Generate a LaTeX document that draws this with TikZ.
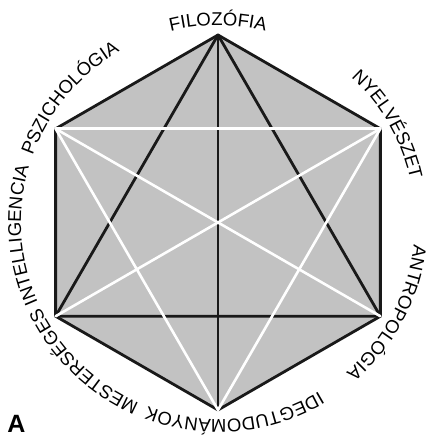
\documentclass[tikz,border=0pt]{standalone}
\usepackage{fontspec}
\setmainfont{Liberation Sans}
\usetikzlibrary{calc,decorations.text}
\definecolor{hexfill}{RGB}{194,194,194}
\newcommand\labfont{\fontsize{18.5}{21}\selectfont}
\tikzset{
  blackline/.style={draw=black!90,line width=2.8pt,line cap=round,line join=round},
  whiteline/.style={draw=white,line width=2.6pt,line cap=round},
  arclabel/.style={decorate,decoration={text along path,text align=center,text={|\labfont|#1}}}
}
\begin{document}
\begin{tikzpicture}[x=1pt,y=1pt]
\useasboundingbox (0,0) rectangle (430,438);
\coordinate (C) at (218,215.5);
\coordinate (T) at ($(C)+(90:187.5)$);
\coordinate (UR) at ($(C)+(30:187.5)$);
\coordinate (LR) at ($(C)+(-30:187.5)$);
\coordinate (B) at ($(C)+(-90:187.5)$);
\coordinate (LL) at ($(C)+(-150:187.5)$);
\coordinate (UL) at ($(C)+(150:187.5)$);
\fill[hexfill] (T)--(UR)--(LR)--(B)--(LL)--(UL)--cycle;
\draw[blackline] (T)--(UR)--(LR)--(B)--(LL)--(UL)--cycle;
\draw[blackline] (T)--(B);
\draw[blackline] (T)--(LL)--(LR)--cycle;
\draw[whiteline] (UL)--(UR);
\draw[whiteline] (UL)--(LR);
\draw[whiteline] (UR)--(LL);
\draw[whiteline] (UL)--(B)--(UR);
\foreach \ang/\txt in {90/FILOZÓFIA,30/NYELVÉSZET,-28/ANTROPOLÓGIA,-85/IDEGTUDOMÁNYOK,-155/MESTERSÉGES INTELLIGENCIA,140/PSZICHOLÓGIA}{
  \path[arclabel=\txt] ($(C)+(\ang+80:197)$) arc[start angle=\ang+80,end angle=\ang-80,radius=197];
}
\node[font=\fontsize{25}{28}\selectfont\bfseries] (lblA) at (16.5,14) {A};
\end{tikzpicture}
\end{document}
